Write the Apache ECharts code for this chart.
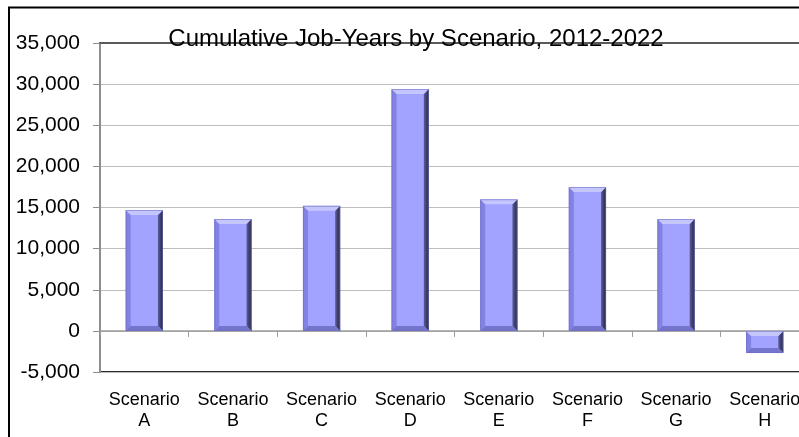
<!DOCTYPE html>
<html>
<head>
<meta charset="utf-8">
<style>
  html, body { margin: 0; padding: 0; background: #ffffff; }
  #chart { width: 799px; height: 437px; }
</style>
<script src="https://cdn.jsdelivr.net/npm/echarts@6/dist/echarts.min.js"></script>
</head>
<body>
<div id="chart"></div>
<script>
// Cumulative job-years per scenario, 2012-2022
const categories = ['Scenario\nA', 'Scenario\nB', 'Scenario\nC', 'Scenario\nD',
                    'Scenario\nE', 'Scenario\nF', 'Scenario\nG', 'Scenario\nH'];
const jobYears = [14700, 13600, 15200, 29400, 16000, 17500, 13600, -2700];
const yTicks = { min: -5000, max: 35000, step: 5000 };
const chartTitle = 'Cumulative Job-Years by Scenario, 2012-2022';

const FONT = "'Liberation Sans', Arial, sans-serif";

// Bevelled column: flat face with lighter top/left and shaded right/bottom edges
function renderBevelBar(params, api) {
  const idx = api.value(0);
  const val = api.value(1);
  const p1 = api.coord([idx, val]);
  const p0 = api.coord([idx, 0]);
  const bw = api.size([1, 0])[0] * 0.42;
  const x0 = p1[0] - bw / 2, x1 = x0 + bw;
  const y0 = Math.min(p0[1], p1[1]), y1 = Math.max(p0[1], p1[1]);
  const b = Math.min(5, (y1 - y0) / 2, bw / 2);
  return {
    type: 'group',
    children: [
      { type: 'rect', shape: { x: x0, y: y0, width: bw, height: y1 - y0 },
        style: { fill: '#a2a2ff' } },
      { type: 'polygon', shape: { points: [[x0, y0], [x0 + b, y0 + b], [x0 + b, y1 - b], [x0, y1]] },
        style: { fill: '#8282e4' } },
      { type: 'polygon', shape: { points: [[x1, y0], [x1 - b, y0 + b], [x1 - b, y1 - b], [x1, y1]] },
        style: { fill: new echarts.graphic.LinearGradient(0, 0, 1, 0, [
          { offset: 0, color: '#5c5c9c' }, { offset: 1, color: '#24243c' }]) } },
      { type: 'polygon', shape: { points: [[x0, y0], [x1, y0], [x1 - b, y0 + b], [x0 + b, y0 + b]] },
        style: { fill: '#c6c6ff' } },
      { type: 'polygon', shape: { points: [[x0, y1], [x1, y1], [x1 - b, y1 - b], [x0 + b, y1 - b]] },
        style: { fill: '#7474cc' } },
      { type: 'rect', shape: { x: x0 + 0.5, y: y0 + 0.5, width: bw - 1, height: y1 - y0 - 1 },
        style: { fill: null, stroke: 'rgba(110,110,190,0.6)', lineWidth: 1 } }
    ]
  };
}

const chart = echarts.init(document.getElementById('chart'));
chart.setOption({
  backgroundColor: '#ffffff',
  animation: false,
  title: {
    text: chartTitle,
    left: 411,
    top: 22,
    textAlign: 'center',
    textStyle: { fontFamily: FONT, fontSize: 24, fontWeight: 'normal', color: '#000' }
  },
  graphic: [{
    type: 'rect',
    shape: { x: 9, y: 7.5, width: 900, height: 600 },
    style: { fill: null, stroke: '#000', lineWidth: 2 },
    z: 100
  }],
  grid: {
    left: 100, top: 43, bottom: 65, right: -10,
    outerBoundsMode: 'none',
    containLabel: false,
    show: true, borderColor: '#2b2b2b', borderWidth: 2, backgroundColor: 'transparent'
  },
  xAxis: [{
    type: 'category',
    data: categories,
    position: 'bottom',
    axisLine: { onZero: true, lineStyle: { color: '#9a9a9a', width: 1.5 } },
    axisTick: { show: true, inside: false, length: 6, lineStyle: { color: '#9a9a9a' } },
    axisLabel: { interval: 0, margin: 18, fontFamily: FONT, fontSize: 18, lineHeight: 21, color: '#000' },
    splitLine: { show: false }
  }, {
    type: 'category',
    data: categories,
    position: 'top',
    axisLine: { onZero: false, lineStyle: { color: '#5a5a5a', width: 2 } },
    axisTick: { show: false },
    axisLabel: { show: false }
  }],
  yAxis: {
    type: 'value',
    min: yTicks.min,
    max: yTicks.max,
    interval: yTicks.step,
    axisLine: { show: true, lineStyle: { color: '#8e8e8e', width: 2 } },
    axisTick: { show: true, length: 7, lineStyle: { color: '#8e8e8e' } },
    axisLabel: {
      margin: 20, fontFamily: FONT, fontSize: 21, color: '#000',
      formatter: v => v.toLocaleString('en-US')
    },
    splitLine: { lineStyle: { color: '#bdbdbd', width: 1 } }
  },
  series: [{
    type: 'custom',
    renderItem: renderBevelBar,
    encode: { x: 0, y: 1 },
    data: jobYears.map((v, i) => [i, v]),
    z: 3
  }]
});
</script>
</body>
</html>
